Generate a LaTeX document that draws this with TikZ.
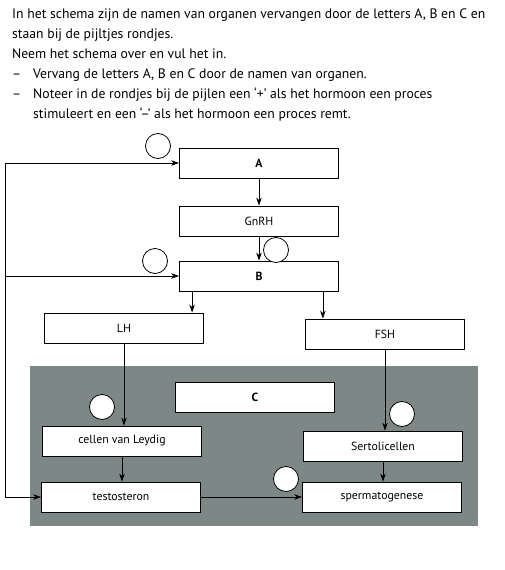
\documentclass[tikz,border=0pt]{standalone}
\usepackage{fontspec}
\setmainfont{PT Sans}
\usetikzlibrary{positioning, arrows.meta}
\definecolor{panelgray}{RGB}{125,135,133}
\tikzset{
  >={Stealth[length=8pt, width=5.5pt, inset=2.5pt]},
  box/.style={draw, fill=white, line width=0.8pt, minimum width=159pt,
    minimum height=30pt, inner sep=0pt, font=\fontsize{11.8}{14}\selectfont},
  letter/.style={box, font=\fontsize{11.8}{14}\selectfont\bfseries},
  ring/.style={draw, fill=white, circle, minimum size=25pt, inner sep=0pt,
    line width=0.8pt},
  flow/.style={->, line width=0.8pt},
  intro/.style={anchor=base west, inner sep=0pt,
    font=\fontsize{13.7}{16}\selectfont},
}

\begin{document}
\begin{tikzpicture}[x=1pt, y=-1pt]
    \useasboundingbox (0,0) rectangle (504,570);

    % question text
    \node[intro] (t1) at (12,18) {In het schema zijn de namen van organen vervangen door de letters A, B en C en};
    \node[intro] (t2) at (12,38) {staan bij de pijltjes rondjes.};
    \node[intro] (t3) at (12,58) {Neem het schema over en vul het in.};
    \node[intro] (t4) at (12,78) {–};
    \node[intro] (t4b) at (33,78) {Vervang de letters A, B en C door de namen van organen.};
    \node[intro] (t5) at (12,98) {–};
    \node[intro] (t5b) at (33,98) {Noteer in de rondjes bij de pijlen een ‘+’ als het hormoon een proces};
    \node[intro] (t6) at (33,118) {stimuleert en een ‘–’ als het hormoon een proces remt.};

    % testis panel
    \fill[panelgray] (30,366) rectangle (478,526);

    % boxes
    \node[letter] (A) at (259,163) {A};
    \node[box] (GnRH) at (259,221) {GnRH};
    \node[letter] (B) at (259,276) {B};
    \node[box] (LH) at (124,328) {LH};
    \node[box] (FSH) at (385,334) {FSH};
    \node[letter] (C) at (255,397) {C};
    \node[box] (leydig) at (122,441) {cellen van Leydig};
    \node[box] (sertoli) at (383,446) {Sertolicellen};
    \node[box] (testo) at (121,497) {testosteron};
    \node[box] (sperm) at (382,497) {spermatogenese};

    % arrows
    \coordinate (fb) at (5,163);
    \draw[line width=0.8pt] (fb) -- (fb |- testo.west);
    \draw[flow] (fb) -- (A.west);
    \draw[flow] (fb |- B.west) -- (B.west);
    \draw[flow] (fb |- testo.west) -- (testo.west);
    \draw[flow] (A.south) -- (GnRH.north);
    \draw[flow] (GnRH.south) -- (B.north);
    \draw[flow] ([xshift=13pt]B.south west) -- ([xshift=13pt]B.south west |- LH.north);
    \draw[flow] ([xshift=-16pt]B.south east) -- ([xshift=-16pt]B.south east |- FSH.north);
    \draw[flow] (LH.south) -- (LH.south |- leydig.north);
    \draw[flow] (FSH.south) -- (FSH.south |- sertoli.north);
    \draw[flow] (leydig.south) -- (leydig.south |- testo.north);
    \draw[flow] (sertoli.south) -- (sertoli.south |- sperm.north);
    \draw[flow] (testo.east) -- (sperm.west);

    % circles
    \node[ring] (r1) at (158,146) {};
    \node[ring] (r2) at (276,250) {};
    \node[ring] (r3) at (155,261) {};
    \node[ring] (r4) at (102,407) {};
    \node[ring] (r5) at (402,414) {};
    \node[ring] (r6) at (286,479) {};
\end{tikzpicture}
\end{document}
